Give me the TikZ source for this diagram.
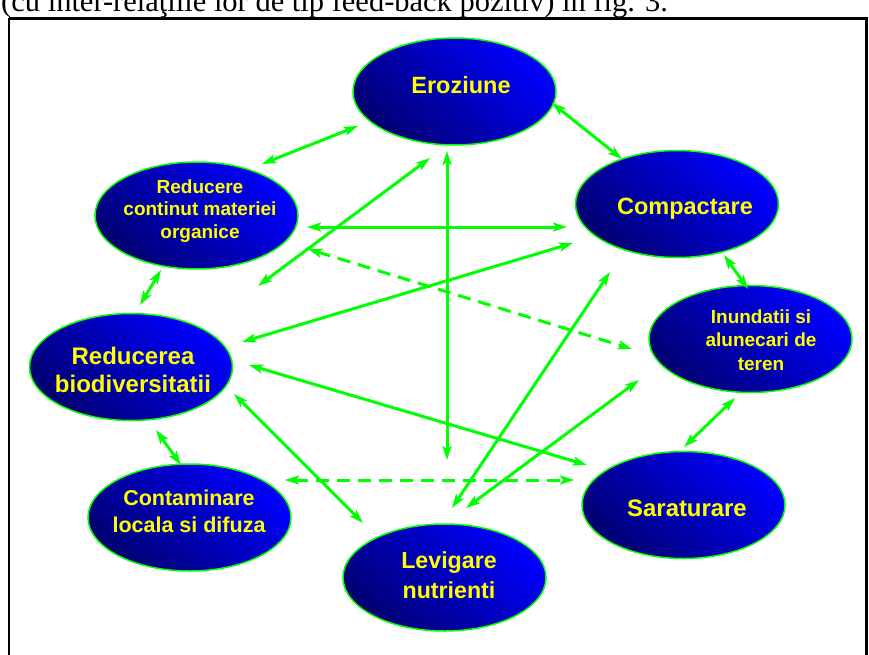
\documentclass[tikz,border=0pt]{standalone}
\usepackage{fontspec}
\setmainfont{Liberation Serif}
\setsansfont{Liberation Sans}
\usetikzlibrary{shapes.geometric,arrows.meta}
\definecolor{gr}{RGB}{0,255,0}
\definecolor{yl}{RGB}{255,255,0}
\definecolor{bl}{RGB}{0,0,255}
\definecolor{dk}{RGB}{0,0,115}
\tikzset{
  blob/.style={ellipse, draw=gr, line width=1.5pt, top color=bl, bottom color=dk, shading angle=-45,
    minimum width=203pt, minimum height=107pt, inner sep=0pt},
  lbl/.style={text=yl, font=\sffamily\bfseries, align=center, inner sep=0pt},
  link/.style={draw=gr, line width=3pt,
    {Stealth[length=14pt,width=9pt,inset=3pt]}-{Stealth[length=14pt,width=9pt,inset=3pt]}},
  dlink/.style={link, dash pattern=on 13pt off 8pt},
}
\begin{document}
\begin{tikzpicture}[x=1pt,y=-1pt]
\useasboundingbox (0,0) rectangle (869,655);
\fill[white] (0,0) rectangle (869,655);
% caption line (cut off at top)
\node[anchor=base west, inner sep=0pt, font=\fontsize{30.5}{34}\selectfont] (cap) at (1,11.5)
  {(cu inter-relaţiile lor de tip feed-back pozitiv) în fig. 3.};
% frame
\draw[line width=2.5pt] (9,18.5) -- (866.5,18.5) -- (866.5,680) (9,18.5) -- (9,680);
% ellipses
\node[blob] (ero) at (454.5,91.5) {};
\node[blob] (red) at (196.5,215.5) {};
\node[blob] (comp) at (677,204) {};
\node[blob] (inu) at (750.5,339) {};
\node[blob] (bio) at (131,367) {};
\node[blob] (cont) at (189.5,517.5) {};
\node[blob] (lev) at (444.5,577.5) {};
\node[blob] (sar) at (683.5,505) {};
% labels
\node[lbl, font=\sffamily\bfseries\fontsize{23.5}{28}\selectfont] (eroL) at (461,85) {Eroziune};
\node[lbl, font=\sffamily\bfseries\fontsize{19}{22.5}\selectfont] (redL) at (200,211) {Reducere\\continut materiei\\organice};
\node[lbl, font=\sffamily\bfseries\fontsize{23.5}{28}\selectfont] (compL) at (685,208.5) {Compactare};
\node[lbl, font=\sffamily\bfseries\fontsize{19}{23.3}\selectfont] (inuL) at (761,340) {Inundatii si\\alunecari de\\teren};
\node[lbl, font=\sffamily\bfseries\fontsize{24}{28}\selectfont] (bioL) at (133,370) {Reducerea\\biodiversitatii};
\node[lbl, font=\sffamily\bfseries\fontsize{21.5}{26.7}\selectfont] (contL) at (189,511.5) {Contaminare\\locala si difuza};
\node[lbl, font=\sffamily\bfseries\fontsize{23.2}{30}\selectfont] (levL) at (449,575) {Levigare\\nutrienti};
\node[lbl, font=\sffamily\bfseries\fontsize{23.9}{28}\selectfont] (sarL) at (687,508) {Saraturare};
% connector end points
\coordinate (a1) at (262,164); \coordinate (a2) at (358,126);
\coordinate (b1) at (552,103); \coordinate (b2) at (622,159);
\coordinate (c1) at (307,227); \coordinate (c2) at (567,227);
\coordinate (d1) at (447,151); \coordinate (d2) at (447,460);
\coordinate (e1) at (430,158); \coordinate (e2) at (258,286);
\coordinate (f1) at (308,249); \coordinate (f2) at (632,349);
\coordinate (g1) at (242,342); \coordinate (g2) at (573,243);
\coordinate (h1) at (249,365); \coordinate (h2) at (587,465);
\coordinate (i1) at (234,394); \coordinate (i2) at (363,523);
\coordinate (j1) at (285,480); \coordinate (j2) at (574,480);
\coordinate (k1) at (610,272); \coordinate (k2) at (452,508);
\coordinate (l1) at (639,380); \coordinate (l2) at (466,508);
\coordinate (m1) at (161,270); \coordinate (m2) at (140,305);
\coordinate (n1) at (156,430); \coordinate (n2) at (181,465);
\coordinate (o1) at (724,255); \coordinate (o2) at (748,289);
\coordinate (p1) at (735,398); \coordinate (p2) at (684,447);
% connectors
\draw[link] (a1) -- (a2);
\draw[link] (b1) -- (b2);
\draw[link] (c1) -- (c2);
\draw[link] (d1) -- (d2);
\draw[link] (e1) -- (e2);
\draw[dlink] (f1) -- (f2);
\draw[link] (g1) -- (g2);
\draw[link] (h1) -- (h2);
\draw[link] (i1) -- (i2);
\draw[dlink] (j1) -- (j2);
\draw[link] (k1) -- (k2);
\draw[link] (l1) -- (l2);
\draw[link] (m1) -- (m2);
\draw[link] (n1) -- (n2);
\draw[link] (o1) -- (o2);
\draw[link] (p1) -- (p2);
\end{tikzpicture}
\end{document}
